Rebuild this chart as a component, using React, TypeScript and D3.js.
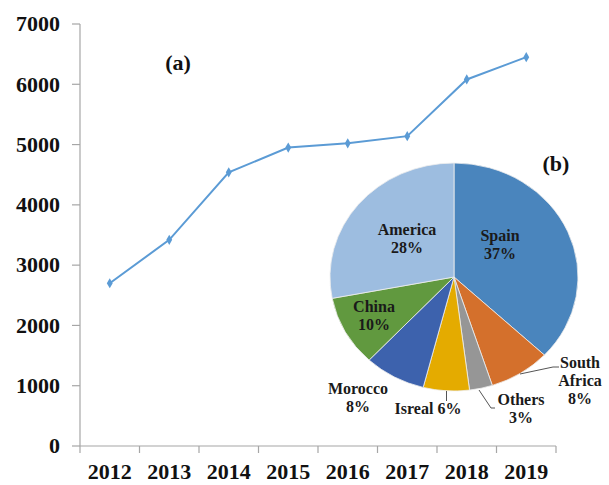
import React from "react";
import * as d3 from "d3";

const years = ["2012", "2013", "2014", "2015", "2016", "2017", "2018", "2019"];
const values = [2700, 3420, 4540, 4950, 5020, 5140, 6080, 6450];
const yTicks = [0, 1000, 2000, 3000, 4000, 5000, 6000, 7000];

const pieNames = ["Spain", "South Africa", "Others", "Isreal", "Morocco", "China", "America"];
const pieShares = [37, 8, 3, 6, 8, 10, 28];
const pieColors = ["#4a85bd", "#d4702c", "#969696", "#e4ab00", "#3d62ad", "#61993f", "#9dbde0"];

const W = 609;
const H = 485;
const FONT = "'Liberation Serif', 'Times New Roman', serif";

export default function App() {
  const x = d3.scaleBand<string>().domain(years).range([80, 556]);
  const y = d3.scaleLinear().domain([0, 7000]).range([446, 24]);
  const line = d3
    .line<number>()
    .x((_, i) => (x(years[i]) as number) + x.bandwidth() / 2)
    .y((d) => y(d));

  const cx = 454;
  const cy = 277;
  const rx = 124;
  const ry = 114;
  const pie = d3.pie<number>().sort(null).value((d) => d);
  const arcs = pie(pieShares);
  const arc = d3.arc<d3.PieArcDatum<number>>().innerRadius(0).outerRadius(rx);

  const tickXs = years.map((yr) => x(yr) as number).concat([556]);
  const diamond = d3.symbol().type(d3.symbolDiamond).size(30)();

  const lbl = (lines: string[], tx: number, ty: number, key: string) => (
    <text key={key} x={tx} y={ty} textAnchor="middle" fontFamily={FONT} fontWeight="bold" fontSize={16} fill="#1a1a1a">
      {lines.map((l, i) => (
        <tspan key={i} x={tx} dy={i === 0 ? 0 : 18}>
          {l}
        </tspan>
      ))}
    </text>
  );

  return (
    <svg width={W} height={H} style={{ position: "absolute", left: 0, top: 0, background: "#fff" }}>
      <rect width={W} height={H} fill="#fff" />
      {/* axes */}
      <line x1={80} x2={80} y1={y(7000)} y2={446} stroke="#a6a6a6" strokeWidth={1.2} />
      <line x1={80} x2={556} y1={446} y2={446} stroke="#a6a6a6" strokeWidth={1.2} />
      {yTicks.map((t) => (
        <g key={t}>
          <line x1={72} x2={80} y1={y(t)} y2={y(t)} stroke="#a6a6a6" strokeWidth={1.2} />
          <text x={60} y={y(t)} dy="0.33em" textAnchor="end" fontFamily={FONT} fontWeight="bold" fontSize={22} fill="#111">
            {t}
          </text>
        </g>
      ))}
      {tickXs.map((tx, i) => (
        <line key={i} x1={tx} x2={tx} y1={446} y2={453} stroke="#a6a6a6" strokeWidth={1.2} />
      ))}
      {years.map((yr) => (
        <text key={yr} x={(x(yr) as number) + x.bandwidth() / 2} y={479} textAnchor="middle" fontFamily={FONT} fontWeight="bold" fontSize={22} fill="#111">
          {yr}
        </text>
      ))}
      {/* line */}
      <path d={line(values) || ""} fill="none" stroke="#5b9bd5" strokeWidth={2} />
      {values.map((v, i) => (
        <path
          key={i}
          d={diamond || ""}
          transform={`translate(${(x(years[i]) as number) + x.bandwidth() / 2},${y(v)})`}
          fill="#5b9bd5"
        />
      ))}
      <text x={178} y={70} textAnchor="middle" fontFamily={FONT} fontWeight="bold" fontSize={22} fill="#111">
        (a)
      </text>
      {/* pie */}
      <g transform={`translate(${cx},${cy}) scale(1,${ry / rx})`}>
        {arcs.map((a, i) => (
          <path key={i} d={arc(a) || ""} fill={pieColors[i]} stroke="#eeeeee" strokeWidth={0.8} vectorEffect="non-scaling-stroke" />
        ))}
      </g>
      <text x={556} y={171} textAnchor="middle" fontFamily={FONT} fontWeight="bold" fontSize={22} fill="#111">
        (b)
      </text>
      {/* leader lines */}
      <polyline points="446.5,391 446.5,401" fill="none" stroke="#555" strokeWidth={1} />
      <polyline points="479,390 491,408 495,408" fill="none" stroke="#555" strokeWidth={1} />
      <polyline points="520,374 553,367 559,367" fill="none" stroke="#555" strokeWidth={1} />
      {lbl([pieNames[6], `${pieShares[6]}%`], 407, 235, "am")}
      {lbl([pieNames[0], `${pieShares[0]}%`], 500, 241, "sp")}
      {lbl([pieNames[5], `${pieShares[5]}%`], 374, 312, "ch")}
      {lbl([pieNames[4], `${pieShares[4]}%`], 358, 394, "mo")}
      {lbl([`${pieNames[3]} ${pieShares[3]}%`], 428, 414, "is")}
      {lbl([pieNames[2], `${pieShares[2]}%`], 521, 405, "ot")}
      {lbl(["South", "Africa", `${pieShares[1]}%`], 580, 368, "sa")}
    </svg>
  );
}
